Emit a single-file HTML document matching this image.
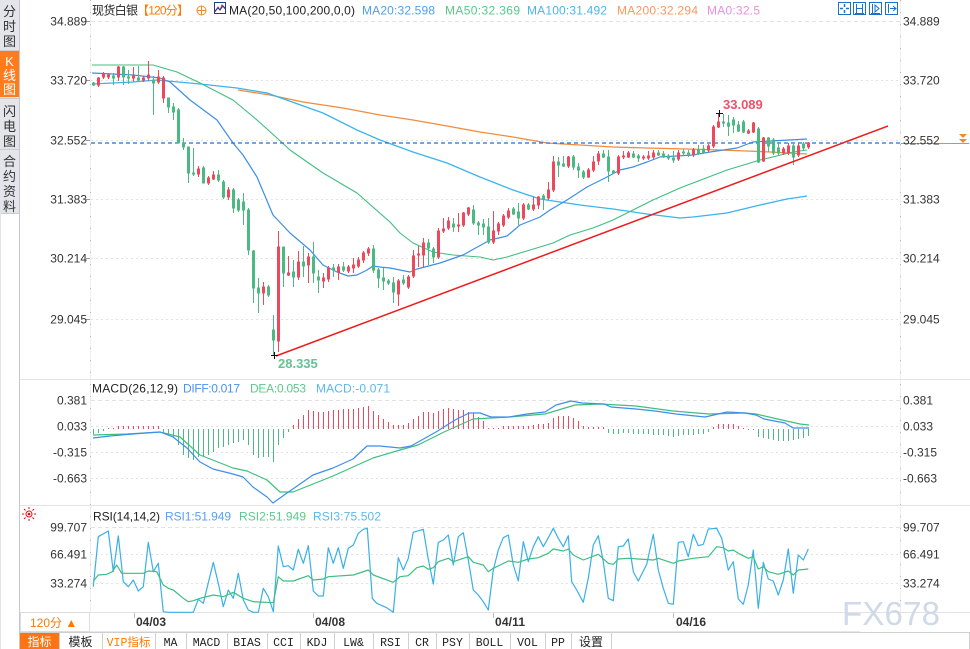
<!DOCTYPE html>
<html><head><meta charset="utf-8">
<style>
html,body{margin:0;padding:0;background:#fff;width:970px;height:649px;overflow:hidden}
svg{display:block}
text{font-family:"Liberation Sans","Noto Sans CJK SC",sans-serif;font-size:12px}
.ax{fill:#333}
.cj{font-family:"Liberation Sans","Noto Sans CJK SC",sans-serif;font-size:13px;fill:#333}
.tb{font-family:"Liberation Mono","Noto Sans CJK SC",monospace;font-size:11.5px;fill:#222}
</style></head><body>
<svg width="970" height="649" viewBox="0 0 970 649" xmlns="http://www.w3.org/2000/svg">
<!-- sidebar -->
<rect x="0" y="0" width="19" height="213" fill="#e3e5ea"/>
<rect x="0" y="51" width="19" height="46" fill="#ff7b1c"/>
<line x1="0" y1="50.5" x2="19" y2="50.5" stroke="#c9ccd3"/>
<line x1="0" y1="98.5" x2="19" y2="98.5" stroke="#c9ccd3"/>
<line x1="0" y1="149.5" x2="19" y2="149.5" stroke="#c9ccd3"/>
<line x1="0" y1="213.5" x2="19" y2="213.5" stroke="#c9ccd3"/>
<line x1="19.5" y1="0" x2="19.5" y2="649" stroke="#c4c7ce"/>
<line x1="0.5" y1="213" x2="0.5" y2="649" stroke="#e2e4e8"/>
<g class="cj" text-anchor="middle">
<text x="9.5" y="16" class="cj">分</text><text x="9.5" y="31" class="cj">时</text><text x="9.5" y="46" class="cj">图</text>
<text x="9.5" y="66" class="cj" style="fill:#fff">K</text><text x="9.5" y="80" class="cj" style="fill:#fff">线</text><text x="9.5" y="94" class="cj" style="fill:#fff">图</text>
<text x="9.5" y="116" class="cj">闪</text><text x="9.5" y="131" class="cj">电</text><text x="9.5" y="146" class="cj">图</text>
<text x="9.5" y="166" class="cj">合</text><text x="9.5" y="181" class="cj">约</text><text x="9.5" y="196" class="cj">资</text><text x="9.5" y="211" class="cj">料</text>
</g>

<!-- panel separators -->
<line x1="20" y1="379.5" x2="970" y2="379.5" stroke="#e4e4e4"/>
<line x1="20" y1="505.5" x2="970" y2="505.5" stroke="#e4e4e4"/>
<line x1="20" y1="612.5" x2="970" y2="612.5" stroke="#e4e4e4"/>
<line x1="90" y1="631.5" x2="860" y2="631.5" stroke="#e8e8e8"/>
<!-- axes -->
<line x1="90.5" y1="0" x2="90.5" y2="612" stroke="#eeeeee"/>
<line x1="900.5" y1="0" x2="900.5" y2="612" stroke="#eeeeee"/>
<line x1="90.5" y1="0" x2="90.5" y2="612" stroke="#b8b8b8" stroke-dasharray="1 11"/>
<line x1="900.5" y1="0" x2="900.5" y2="612" stroke="#b8b8b8" stroke-dasharray="1 11"/>

<!-- main grid -->
<g stroke="#e2e2e2" stroke-dasharray="2 3">
<line x1="91" y1="21.5" x2="900" y2="21.5" stroke-dasharray="4 3"/>
<line x1="91" y1="80.5" x2="900" y2="80.5"/>
<line x1="91" y1="140.5" x2="900" y2="140.5"/>
<line x1="91" y1="199.5" x2="900" y2="199.5"/>
<line x1="91" y1="258.5" x2="900" y2="258.5"/>
<line x1="91" y1="319.5" x2="900" y2="319.5"/>
<line x1="91" y1="400.5" x2="900" y2="400.5" stroke-dasharray="4 3"/>
<line x1="91" y1="426.5" x2="900" y2="426.5"/>
<line x1="91" y1="452.5" x2="900" y2="452.5"/>
<line x1="91" y1="478.5" x2="900" y2="478.5"/>
<line x1="91" y1="527.5" x2="900" y2="527.5" stroke-dasharray="4 3"/>
<line x1="91" y1="554.5" x2="900" y2="554.5"/>
<line x1="91" y1="583.5" x2="900" y2="583.5"/>
</g>
<g stroke="#999">
<line x1="86" y1="21.5" x2="90" y2="21.5"/><line x1="86" y1="80.5" x2="90" y2="80.5"/><line x1="86" y1="140.5" x2="90" y2="140.5"/><line x1="86" y1="199.5" x2="90" y2="199.5"/><line x1="86" y1="258.5" x2="90" y2="258.5"/><line x1="86" y1="319.5" x2="90" y2="319.5"/>
</g>

<!-- axis labels -->
<g class="ax" text-anchor="end">
<text x="87" y="25.5">34.889</text><text x="87" y="84.5">33.720</text><text x="87" y="144.5">32.552</text><text x="87" y="203.5">31.383</text><text x="87" y="262.5">30.214</text><text x="87" y="323.5">29.045</text>
<text x="87" y="404.5">0.381</text><text x="87" y="430.5">0.033</text><text x="87" y="456.5">-0.315</text><text x="87" y="482.5">-0.663</text>
<text x="87" y="531.5">99.707</text><text x="87" y="558.5">66.491</text><text x="87" y="587.5">33.274</text>
</g>
<line x1="901" y1="143.5" x2="969" y2="143.5" stroke="#f08a30"/>
<g class="ax">
<text x="903" y="25.5">34.889</text><text x="903" y="84.5">33.720</text><text x="903" y="144.5">32.552</text><text x="903" y="203.5">31.383</text><text x="903" y="262.5">30.214</text><text x="903" y="323.5">29.045</text>
<text x="903" y="404.5">0.381</text><text x="903" y="430.5">0.033</text><text x="903" y="456.5">-0.315</text><text x="903" y="482.5">-0.663</text>
<text x="903" y="531.5">99.707</text><text x="903" y="558.5">66.491</text><text x="903" y="587.5">33.274</text>
</g>
<path d="M959 134h8l-4 4z M959 139h8l-4 4z" fill="#f08a30"/>

<!-- title row -->
<text x="92" y="14.5" fill="#222" textLength="46">现货白银</text>
<text x="137" y="14.5" fill="#ff7a00" textLength="52">【120分】</text>
<circle cx="201.5" cy="10.5" r="4.5" fill="none" stroke="#f08a30"/>
<path d="M197 10.5h9M201.5 6v9" stroke="#f08a30"/>
<rect x="214.5" y="2.5" width="11" height="11" fill="#fff" stroke="#1a3f9a"/>
<path d="M215 12l3-5 2 3 2-5 3 4" fill="none" stroke="#d9262c"/>
<path d="M215 11l3-3 2 2 3-4 2 2" fill="none" stroke="#1a3f9a"/>
<text x="229" y="14.5" fill="#222" textLength="126">MA(20,50,100,200,0,0)</text>
<text x="362" y="14.5" fill="#4d9ff0" textLength="73">MA20:32.598</text>
<text x="445" y="14.5" fill="#55c98a" textLength="75">MA50:32.369</text>
<text x="527" y="14.5" fill="#4bb5ec" textLength="80">MA100:31.492</text>
<text x="617" y="14.5" fill="#f59a62" textLength="81">MA200:32.294</text>
<text x="707" y="14.5" fill="#ec8ee0" textLength="53">MA0:32.5</text>
<!-- top right icons -->
<g fill="none" stroke="#1b72c9">
<rect x="838.5" y="2.5" width="12" height="12"/><rect x="853.5" y="2.5" width="12" height="12"/><rect x="869.5" y="2.5" width="12" height="12"/><rect x="885.5" y="2.5" width="12" height="12"/>
<path d="M844.5 4v3M844.5 10v3M840 8.5h3M846 8.5h3" stroke-width="1.5"/>
<path d="M856.5 4v9M862.5 4v9M857 8.5h5M855 13.5h9"/>
<path d="M872.5 4v9M875 5v7l4-3.5z M871 13.5h9"/>
<path d="M888.5 4v9M890 8.5h6M893 6l3 2.5-3 2.5"/>
</g>

<!-- MA lines -->
<g fill="none" stroke-linejoin="round">
<polyline stroke="#f28c3c" stroke-width="1.3" points="238,90 270,95 303,102 343,108 380,115 413,120 447,126 480,132 513,137 547,143 580,145 613,147 647,148 687,149 720,150 747,151 770,152 807,154"/>
<polyline stroke="#3ab4ec" stroke-width="1.3" points="92,84 133,82 157,80 200,84 237,88 267,93 323,113 357,130 380,140 413,152 447,163 480,177 513,190 540,199 580,205 613,209 647,214 680,218 693,217 727,213 760,205 787,199 807,196"/>
<polyline stroke="#3fbf7f" stroke-width="1.1" points="92,65 153,65 177,72 200,83 233,100 257,120 277,138 290,150 323,173 357,193 390,222 400,233 413,243 433,252 453,255 480,257 493,260 507,257 520,253 540,247 553,243 570,235 593,228 613,220 633,210 653,200 680,188 693,183 727,170 760,160 793,152 807,150"/>
<polyline stroke="#3d8fe6" stroke-width="1.2" points="92,73 133,75 160,78 170,82 190,100 217,120 233,143 243,155 257,177 273,215 290,233 310,250 323,265 337,272 348,276 357,275 367,270 373,266 380,267 390,268 400,270 410,272 417,269 440,263 463,255 490,240 507,236 520,225 540,217 550,210 567,200 587,187 607,177 620,170 633,167 647,162 660,157 693,155 710,152 737,148 753,142 807,139"/>
</g>
<line x1="91" y1="143" x2="900" y2="143" stroke="#1f6fd8" stroke-width="1.2" stroke-dasharray="4 3"/>

<!-- candles green -->
<path fill="#4cb882" stroke="#4cb882" stroke-width="1" d="M93.5 82V86M92.5 83h2v2h-2z M113.5 73V85M112.5 76h2v2h-2z M123.5 66V85M122.5 67h2v10h-2z M128.5 70V84M127.5 77h2v1h-2z M138.5 66V81M137.5 78h2v2h-2z M153.5 76V115M152.5 80h2v3h-2z M168.5 98V113M167.5 98h2v9h-2z M173.5 103V120M172.5 107h2v5h-2z M178.5 108V143M177.5 110h2v33h-2z M183.5 138V150M182.5 143h2v4h-2z M188.5 147V183M187.5 147h2v26h-2z M193.5 148V176M192.5 173h2v1h-2z M203.5 166V183M202.5 168h2v15h-2z M218.5 170V182M217.5 175h2v5h-2z M223.5 180V199M222.5 182h2v15h-2z M233.5 188V213M232.5 190h2v18h-2z M238.5 198V212M237.5 200h2v10h-2z M243.5 193V225M242.5 202h2v8h-2z M248.5 208V255M247.5 210h2v40h-2z M253.5 250V303M252.5 251h2v37h-2z M258.5 278V313M257.5 288h2v5h-2z M268.5 285V297M267.5 287h2v8h-2z M273.5 315V355M272.5 330h2v10h-2z M283.5 247V287M282.5 247h2v26h-2z M293.5 260V287M292.5 272h2v5h-2z M303.5 246V277M302.5 262h2v4h-2z M313.5 242V283M312.5 257h2v16h-2z M318.5 270V293M317.5 277h2v3h-2z M333.5 264V277M332.5 268h2v2h-2z M343.5 262V272M342.5 267h2v3h-2z M373.5 245V273M372.5 249h2v21h-2z M378.5 268V288M377.5 270h2v8h-2z M383.5 268V290M382.5 278h2v3h-2z M388.5 279V285M387.5 281h2v2h-2z M393.5 277V303M392.5 283h2v9h-2z M403.5 275V285M402.5 280h2v3h-2z M428.5 239V265M427.5 243h2v5h-2z M433.5 247V263M432.5 249h2v8h-2z M453.5 218V232M452.5 224h2v3h-2z M473.5 205V225M472.5 210h2v13h-2z M478.5 221V235M477.5 223h2v2h-2z M483.5 219V235M482.5 224h2v3h-2z M488.5 218V244M487.5 227h2v15h-2z M513.5 207V215M512.5 209h2v5h-2z M518.5 203V225M517.5 212h2v6h-2z M528.5 203V210M527.5 205h2v4h-2z M543.5 194V210M542.5 196h2v3h-2z M558.5 157V177M557.5 162h2v3h-2z M563.5 156V167M562.5 164h2v2h-2z M573.5 155V170M572.5 157h2v10h-2z M578.5 163V178M577.5 167h2v3h-2z M583.5 170V179M582.5 172h2v5h-2z M603.5 150V158M602.5 154h2v3h-2z M608.5 150V182M607.5 157h2v14h-2z M613.5 170V174M612.5 171h2v2h-2z M633.5 151V158M632.5 154h2v3h-2z M638.5 154V162M637.5 156h2v2h-2z M658.5 150V156M657.5 153h2v2h-2z M663.5 151V158M662.5 154h2v3h-2z M668.5 154V160M667.5 156h2v2h-2z M673.5 151V163M672.5 158h2v2h-2z M683.5 149V156M682.5 152h2v1h-2z M688.5 150V157M687.5 153h2v1h-2z M698.5 145V155M697.5 150h2v4h-2z M703.5 145V154M702.5 149h2v4h-2z M723.5 114V127M722.5 122h2v1h-2z M728.5 115V136M727.5 123h2v3h-2z M733.5 117V133M732.5 120h2v5h-2z M738.5 121V132M737.5 125h2v6h-2z M743.5 120V133M742.5 122h2v10h-2z M758.5 127V163M757.5 129h2v33h-2z M768.5 137V152M767.5 138h2v8h-2z M773.5 138V155M772.5 140h2v13h-2z M778.5 143V155M777.5 148h2v5h-2z M793.5 144V165M792.5 146h2v11h-2z M803.5 142V150M802.5 144h2v4h-2z"/>
<!-- candles red -->
<path fill="#ec4a5c" stroke="#ec4a5c" stroke-width="1" d="M98.5 77V87M97.5 78h2v7h-2z M103.5 72V79M102.5 74h2v3h-2z M108.5 73V79M107.5 75h2v2h-2z M118.5 66V81M117.5 67h2v10h-2z M133.5 67V82M132.5 76h2v2h-2z M143.5 76V82M142.5 78h2v2h-2z M148.5 61V81M147.5 75h2v3h-2z M158.5 70V84M157.5 77h2v5h-2z M163.5 76V103M162.5 78h2v20h-2z M198.5 166V177M197.5 169h2v5h-2z M208.5 176V185M207.5 178h2v5h-2z M213.5 171V180M212.5 175h2v4h-2z M228.5 187V200M227.5 190h2v7h-2z M263.5 282V305M262.5 287h2v6h-2z M278.5 231V352M277.5 247h2v94h-2z M288.5 256V276M287.5 273h2v2h-2z M298.5 251V280M297.5 262h2v15h-2z M308.5 253V283M307.5 257h2v8h-2z M323.5 273V288M322.5 278h2v3h-2z M328.5 266V282M327.5 268h2v11h-2z M338.5 264V280M337.5 267h2v5h-2z M348.5 265V273M347.5 267h2v4h-2z M353.5 258V273M352.5 265h2v3h-2z M358.5 257V268M357.5 260h2v6h-2z M363.5 251V263M362.5 253h2v7h-2z M368.5 247V256M367.5 249h2v4h-2z M398.5 279V306M397.5 281h2v13h-2z M408.5 275V289M407.5 277h2v10h-2z M413.5 250V278M412.5 256h2v20h-2z M418.5 246V267M417.5 254h2v1h-2z M423.5 238V268M422.5 243h2v12h-2z M438.5 228V259M437.5 231h2v26h-2z M443.5 218V233M442.5 229h2v2h-2z M448.5 217V230M447.5 221h2v7h-2z M458.5 213V232M457.5 225h2v1h-2z M463.5 212V227M462.5 213h2v12h-2z M468.5 207V216M467.5 208h2v6h-2z M493.5 211V244M492.5 231h2v11h-2z M498.5 222V235M497.5 224h2v7h-2z M503.5 214V227M502.5 216h2v9h-2z M508.5 208V219M507.5 211h2v6h-2z M523.5 203V220M522.5 205h2v13h-2z M533.5 197V211M532.5 205h2v4h-2z M538.5 196V209M537.5 197h2v8h-2z M548.5 182V200M547.5 190h2v8h-2z M553.5 156V192M552.5 162h2v28h-2z M568.5 156V168M567.5 157h2v9h-2z M588.5 168V178M587.5 170h2v7h-2z M593.5 156V172M592.5 162h2v8h-2z M598.5 151V165M597.5 154h2v7h-2z M618.5 155V175M617.5 157h2v16h-2z M623.5 151V159M622.5 156h2v1h-2z M628.5 151V158M627.5 153h2v4h-2z M643.5 155V160M642.5 157h2v1h-2z M648.5 151V160M647.5 156h2v2h-2z M653.5 150V159M652.5 153h2v4h-2z M678.5 150V161M677.5 153h2v6h-2z M693.5 148V157M692.5 150h2v5h-2z M708.5 144V152M707.5 146h2v4h-2z M713.5 125V148M712.5 127h2v19h-2z M718.5 113V128M717.5 122h2v5h-2z M748.5 129V134M747.5 131h2v2h-2z M753.5 122V133M752.5 123h2v9h-2z M763.5 137V162M762.5 138h2v23h-2z M783.5 147V155M782.5 149h2v4h-2z M788.5 143V155M787.5 146h2v7h-2z M798.5 143V157M797.5 146h2v9h-2z M808.5 142V149M807.5 143h2v4h-2z"/>

<!-- trend line -->
<line x1="276" y1="356" x2="888" y2="126" stroke="#ee1c1c" stroke-width="1.5"/>
<!-- markers -->
<path d="M271 355.5h7M274.5 352v7" stroke="#111"/>
<text x="278" y="368" fill="#63c396" font-weight="bold" font-size="13" style="font-size:13px">28.335</text>
<path d="M716 113.5h7M719.5 110v7" stroke="#111"/>
<text x="723" y="109" fill="#f0506a" font-weight="bold" font-size="13" style="font-size:13px">33.089</text>

<!-- MACD -->
<text x="92" y="392.5" fill="#222" textLength="86">MACD(26,12,9)</text>
<text x="183" y="392.5" fill="#4b93f0" textLength="57">DIFF:0.017</text>
<text x="250" y="392.5" fill="#5cc98c" textLength="56">DEA:0.053</text>
<text x="316" y="392.5" fill="#5ab8f0" textLength="74">MACD:-0.071</text>
<path stroke="#ec4a5c" stroke-width="1" d="M108.5 429V428M113.5 429V428M118.5 429V426M123.5 429V426M128.5 429V426M133.5 429V426M138.5 429V426M143.5 429V426M148.5 429V426M153.5 429V426M158.5 429V426 M293.5 429V425M298.5 429V419M303.5 429V415M308.5 429V410M313.5 429V411M318.5 429V412M323.5 429V412M328.5 429V411M333.5 429V410M338.5 429V410M343.5 429V409M348.5 429V409M353.5 429V409M358.5 429V408M363.5 429V407M368.5 429V406M373.5 429V411M378.5 429V415M383.5 429V419M388.5 429V422M393.5 429V425M398.5 429V425M403.5 429V425M408.5 429V423M413.5 429V419M418.5 429V416M423.5 429V412M428.5 429V412M433.5 429V413M438.5 429V411M443.5 429V409M448.5 429V408M453.5 429V409M458.5 429V410M463.5 429V410M468.5 429V412M473.5 429V413M478.5 429V417M483.5 429V421M488.5 429V428M493.5 429V428M498.5 429V428M503.5 429V426M508.5 429V426M513.5 429V426M518.5 429V426M523.5 429V426M528.5 429V426M533.5 429V425M538.5 429V424M543.5 429V424M548.5 429V423M553.5 429V418M558.5 429V416M563.5 429V416M568.5 429V416M573.5 429V418M578.5 429V421M583.5 429V426M588.5 429V427M593.5 429V427M598.5 429V427M603.5 429V427 M713.5 429V427M718.5 429V424M723.5 429V424M728.5 429V424M733.5 429V424M738.5 429V426M743.5 429V428"/>
<path stroke="#4cb882" stroke-width="1" d="M93.5 429V434M98.5 429V433M103.5 429V431 M163.5 429V433M168.5 429V435M173.5 429V438M178.5 429V445M183.5 429V455M188.5 429V458M193.5 429V460M198.5 429V457M203.5 429V457M208.5 429V455M213.5 429V452M218.5 429V448M223.5 429V447M228.5 429V445M233.5 429V443M238.5 429V442M243.5 429V440M248.5 429V445M253.5 429V455M258.5 429V458M263.5 429V457M268.5 429V457M273.5 429V462M278.5 429V445M283.5 429V438M288.5 429V432 M608.5 429V433M613.5 429V434M618.5 429V434M623.5 429V433M628.5 429V433M633.5 429V434M638.5 429V434M643.5 429V434M648.5 429V434M653.5 429V435M658.5 429V435M663.5 429V435M668.5 429V436M673.5 429V437M678.5 429V436M683.5 429V435M688.5 429V435M693.5 429V435M698.5 429V434M703.5 429V434M708.5 429V432 M748.5 429V430M753.5 429V430M758.5 429V437M763.5 429V438M768.5 429V439M773.5 429V440M778.5 429V441M783.5 429V441M788.5 429V441M793.5 429V440M798.5 429V439M803.5 429V438M808.5 429V436"/>
<g fill="none" stroke-linejoin="round">
<polyline stroke="#3fbf7f" stroke-width="1.2" points="93,435 127,434 160,432 180,437 200,455 233,468 247,471 267,480 280,492 293,492 313,484 333,476 353,467 373,458 400,450 418,445 444,432 473,419 509,417 545,414 575,405 600,404 636,406 673,411 709,414 745,413 756,414 782,420 800,424 809,425"/>
<polyline stroke="#3d8ef0" stroke-width="1.2" points="93,438 110,436 133,434 160,432 173,437 187,448 200,462 213,469 233,474 243,477 253,487 267,497 273,503 287,493 300,484 313,475 333,468 353,459 367,446 380,446 400,448 411,446 436,432 455,420 469,413 480,413 491,417 509,417 527,414 545,412 556,405 571,401 582,403 604,404 611,407 636,409 655,411 676,414 705,417 727,412 745,413 756,415 764,419 785,423 793,428 809,428"/>
</g>

<!-- RSI -->
<g transform="translate(29,514)">
<circle r="3" fill="none" stroke="#e01010"/><circle r="1.3" fill="#e01010"/>
<path d="M-7 0h2M5 0h2M0 -7v2M0 5v2M-5 -5l1.5 1.5M3.5 3.5l1.5 1.5M5 -5l-1.5 1.5M-3.5 3.5l-1.5 1.5" stroke="#e01010"/>
</g>
<text x="93" y="520.5" fill="#222" textLength="67">RSI(14,14,2)</text>
<text x="165" y="520.5" fill="#5aa0f5" textLength="66">RSI1:51.949</text>
<text x="239" y="520.5" fill="#5cc98c" textLength="67">RSI2:51.949</text>
<text x="313" y="520.5" fill="#5ab8f0" textLength="68">RSI3:75.502</text>
<g fill="none" stroke-linejoin="round" stroke-width="1.2">
<polyline stroke="#3ab0e8" points="93.3,586.7 98.3,536.7 108.3,531 113.3,571.7 118.3,536 121.7,566.7 123.3,581.7 128.3,586.7 133.3,580 138.3,591 143.3,586.7 148.3,542.3 153.3,571.7 158.3,563.3 163.3,611.7 168.3,612.3 193.3,612.3 198.3,599.3 203.3,603.3 213.3,562.3 218.3,583.3 223.3,606.7 228.3,590 233.3,598.3 238.3,573.3 243.3,600 248.3,610 253.3,612.3 258.3,612.3 263.3,588.3 268.3,596.7 273.3,611.7 278.3,546 283.3,566.7 288.3,565.7 293.3,570 298.3,549.3 303.3,563.3 308.3,545.7 313.3,591 318.3,596 323.3,596 328.3,547.7 333.3,563.3 338.3,547.7 343.3,568.3 348.3,548.3 353.3,545 358.3,533.3 363.3,529.3 367.3,528.3 372.3,598.3 376.7,603.3 386.7,607.7 393.3,612.3 398.3,557.7 403.3,570 408.3,558.3 413.3,532.3 423.3,529.3 428.3,559.3 433.3,584 438.3,542.3 443.3,540 448.3,535 453.3,565 458.3,536.7 463.3,532.7 468.3,560 473.3,590 478.3,595 483.3,601.7 488.3,610 493.3,570 498.3,550 503.3,537.7 508.3,535 513.3,565 518.3,581 523.3,541.7 528.3,561.7 533.3,546.7 538.3,536.7 543.3,546.7 548.3,537.7 553.3,528.3 558.3,538.3 563.3,546.7 568.3,535.7 571.7,581.7 576.7,590 583.3,602.3 588.3,578.3 593.3,545 598.3,535.7 603.3,561.7 608.3,598.3 613.3,600.7 618.3,546.7 623.3,546 628.3,539 633.3,571.7 638.3,581 646.7,564.3 653.3,534.3 658.3,570 663.3,588.3 668.3,603.3 673.3,604.3 678.3,542.3 683.3,541.7 688.3,556.7 693.3,534.3 698.3,545.7 703.3,544.3 708.3,529 716.7,528.3 721.7,538.3 728.3,570 733.3,561.7 738.3,599 743.3,604.3 748.3,585 753.3,550 758.3,608.3 763.3,562.3 768.3,579 773.3,581 778.3,595 783.3,580 788.3,549 793.3,593.3 798.3,555 803.3,560 808.3,549"/>
<polyline stroke="#3cbf80" points="93.3,581 98.3,575 106.7,574.3 112.3,571.7 116.7,565 121.7,573.3 143.3,573.3 148.3,571 156.7,571.7 163.3,585 168.3,588.3 173.3,590 183.3,598.3 188.3,601.7 193.3,600.7 200,598.3 213.3,595 223.3,596.7 233.3,592.3 243.3,598.3 253.3,601.7 273.3,602.7 278.3,576.7 283.3,581 293.3,581 308.3,575.7 313.3,580 323.3,579 328.3,576.7 353.3,575 368.3,570 373.3,575 393.3,582.3 400,576.7 408.3,575.7 416.7,567.7 423.3,566 428.3,569.3 433.3,567.7 438.3,561.7 448.3,558.3 453.3,561.7 468.3,556.7 473.3,562.3 483.3,565 488.3,571.7 493.3,568.3 508.3,561 518.3,562.3 528.3,559 538.3,557.7 548.3,553.3 553.3,549 563.3,551 568.3,549 573.3,555 583.3,560 598.3,554.3 608.3,563.3 613.3,564.3 618.3,559 628.3,558.3 653.3,560 658.3,558.3 673.3,563.3 678.3,561 693.3,558.3 708.3,556.7 716.7,546.7 723.3,547.7 728.3,551 733.3,550 738.3,553.3 748.3,558.3 753.3,556.7 758.3,569 763.3,566.7 768.3,571.7 778.3,574.3 788.3,571 793.3,575 798.3,570 808.3,569"/>
</g>

<!-- date axis -->
<rect x="20.5" y="612.5" width="69" height="19" fill="#fff" stroke="#dcdcdc"/>
<text x="30" y="627" fill="#ff7a00" font-size="12.5">120分 ▲</text>
<g stroke="#bbb"><line x1="134.5" y1="613" x2="134.5" y2="618"/><line x1="313.5" y1="613" x2="313.5" y2="618"/><line x1="493.5" y1="613" x2="493.5" y2="618"/><line x1="673.5" y1="613" x2="673.5" y2="618"/></g>
<g fill="#333" font-weight="bold">
<text x="136" y="626" textLength="30">04/03</text><text x="315" y="626" textLength="30">04/08</text><text x="495" y="626" textLength="30">04/11</text><text x="676" y="626" textLength="30">04/16</text>
</g>
<text x="842" y="625" fill="#cfd9e8" font-size="33" textLength="98" style="font-size:33px">FX678</text>

<!-- toolbar -->
<line x1="20" y1="632.5" x2="970" y2="632.5" stroke="#cfcfcf"/>
<rect x="20" y="633" width="39" height="16" fill="#ff7412"/>
<g stroke="#d0d0d0">
<line x1="59.5" y1="633" x2="59.5" y2="649"/><line x1="102.5" y1="633" x2="102.5" y2="649"/><line x1="155.5" y1="633" x2="155.5" y2="649"/><line x1="186.5" y1="633" x2="186.5" y2="649"/><line x1="227.5" y1="633" x2="227.5" y2="649"/><line x1="267.5" y1="633" x2="267.5" y2="649"/><line x1="300.5" y1="633" x2="300.5" y2="649"/><line x1="334.5" y1="633" x2="334.5" y2="649"/><line x1="373.5" y1="633" x2="373.5" y2="649"/><line x1="408.5" y1="633" x2="408.5" y2="649"/><line x1="436.5" y1="633" x2="436.5" y2="649"/><line x1="469.5" y1="633" x2="469.5" y2="649"/><line x1="510.5" y1="633" x2="510.5" y2="649"/><line x1="545.5" y1="633" x2="545.5" y2="649"/><line x1="571.5" y1="633" x2="571.5" y2="649"/><line x1="611.5" y1="633" x2="611.5" y2="649"/><line x1="969.5" y1="633" x2="969.5" y2="649"/>
</g>
<g text-anchor="middle">
<text x="39.5" y="646" fill="#fff" font-size="12.5">指标</text>
<text x="80.5" y="646" fill="#222" font-size="12.5">模板</text>
<text x="128.5" y="646" class="tb" style="fill:#ff7a00">VIP指标</text>
<text x="170.5" y="646" class="tb">MA</text>
<text x="206.5" y="646" class="tb">MACD</text>
<text x="247" y="646" class="tb">BIAS</text>
<text x="283.5" y="646" class="tb">CCI</text>
<text x="317" y="646" class="tb">KDJ</text>
<text x="353.5" y="646" class="tb">LW&amp;</text>
<text x="390.5" y="646" class="tb">RSI</text>
<text x="422" y="646" class="tb">CR</text>
<text x="452.5" y="646" class="tb">PSY</text>
<text x="489.5" y="646" class="tb">BOLL</text>
<text x="527.5" y="646" class="tb">VOL</text>
<text x="558" y="646" class="tb">PP</text>
<text x="591" y="646" fill="#222" font-size="12.5">设置</text>
</g>
</svg>
</body></html>
